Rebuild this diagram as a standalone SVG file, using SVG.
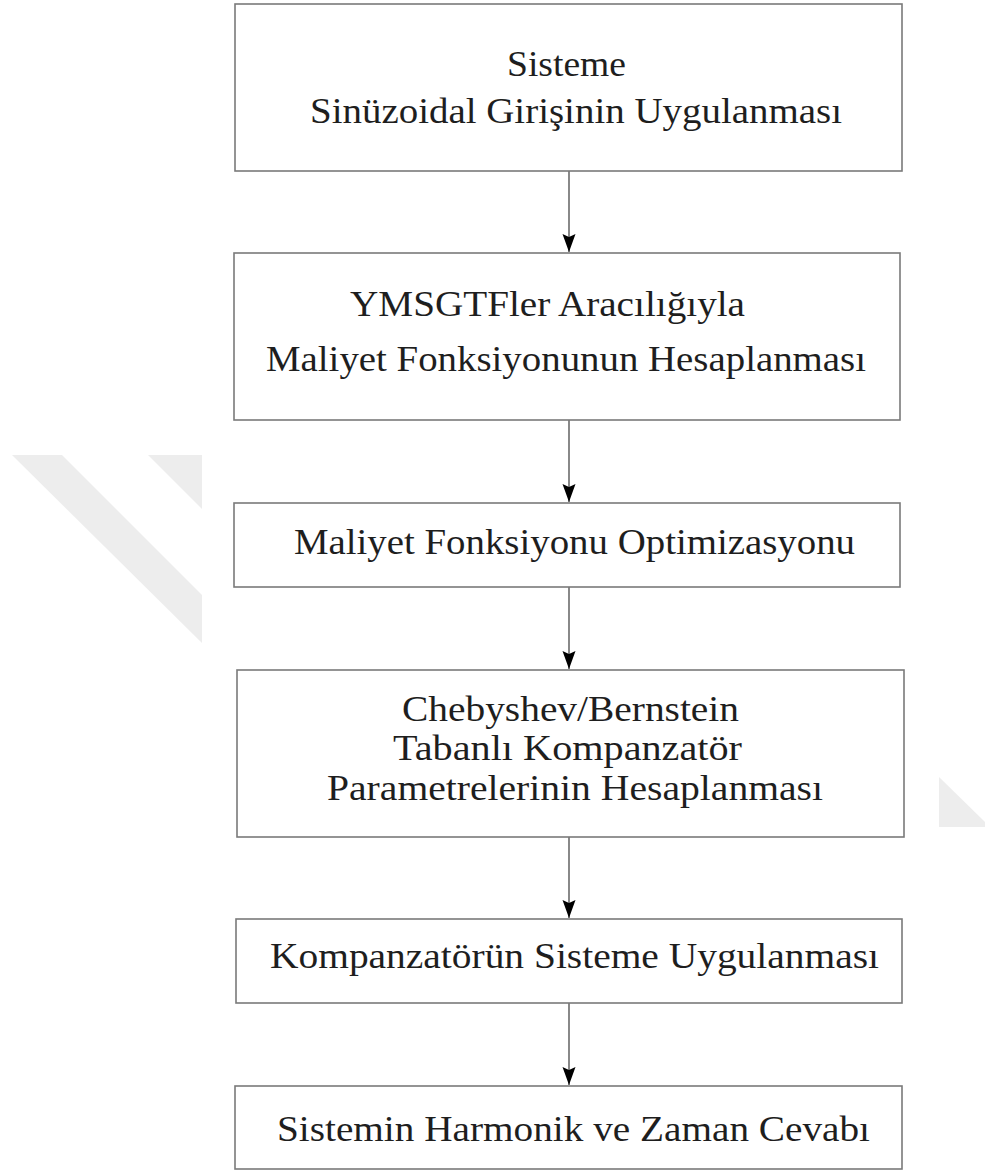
<svg xmlns="http://www.w3.org/2000/svg" width="985" height="1173" viewBox="0 0 985 1173">
<defs>
<style>
.box{fill:#ffffff;stroke:#7a7a7a;stroke-width:1.6}
.lbl{font-family:"Liberation Serif","DejaVu Serif",serif;font-size:36px;fill:#1e1e1e}
.edge{stroke:#3a3a3a;stroke-width:1.2;fill:none}
.wm{fill:#ededed}
</style>
<marker id="arr" markerUnits="userSpaceOnUse" markerWidth="20" markerHeight="14" refX="18" refY="6.5" orient="auto">
<path d="M0,0 L18,6.5 L0,13 L3,6.5 Z" fill="#000000"/>
</marker>
</defs>
<rect width="985" height="1173" fill="#ffffff"/>
<g id="watermark">
<polygon class="wm" points="12,455 62,455 202,595 202,643"/>
<polygon class="wm" points="148,455 202,455 202,509"/>
<polygon class="wm" points="939,777 985,822 985,827 939,827"/>
</g>
<g id="connectors">
<line class="edge" x1="569" y1="171" x2="569" y2="252" marker-end="url(#arr)"/>
<line class="edge" x1="569" y1="420" x2="569" y2="502" marker-end="url(#arr)"/>
<line class="edge" x1="569" y1="587" x2="569" y2="669" marker-end="url(#arr)"/>
<line class="edge" x1="569" y1="837" x2="569" y2="918" marker-end="url(#arr)"/>
<line class="edge" x1="569" y1="1003" x2="569" y2="1085" marker-end="url(#arr)"/>
</g>
<g id="n1">
<rect class="box" x="235" y="4" width="667" height="167"/>
<text class="lbl" x="507" y="76" textLength="119" lengthAdjust="spacingAndGlyphs">Sisteme</text>
<text class="lbl" x="310" y="123" textLength="532" lengthAdjust="spacingAndGlyphs">Sinüzoidal Girişinin Uygulanması</text>
</g>
<g id="n2">
<rect class="box" x="234" y="253" width="666" height="167"/>
<text class="lbl" x="350" y="316" textLength="395" lengthAdjust="spacingAndGlyphs">YMSGTFler Aracılığıyla</text>
<text class="lbl" x="266" y="371" textLength="600" lengthAdjust="spacingAndGlyphs">Maliyet Fonksiyonunun Hesaplanması</text>
</g>
<g id="n3">
<rect class="box" x="234" y="503" width="666" height="84"/>
<text class="lbl" x="294" y="554" textLength="561" lengthAdjust="spacingAndGlyphs">Maliyet Fonksiyonu Optimizasyonu</text>
</g>
<g id="n4">
<rect class="box" x="237" y="670" width="667" height="167"/>
<text class="lbl" x="402" y="721" textLength="337" lengthAdjust="spacingAndGlyphs">Chebyshev/Bernstein</text>
<text class="lbl" x="393" y="760" textLength="349" lengthAdjust="spacingAndGlyphs">Tabanlı Kompanzatör</text>
<text class="lbl" x="327" y="800" textLength="496" lengthAdjust="spacingAndGlyphs">Parametrelerinin Hesaplanması</text>
</g>
<g id="n5">
<rect class="box" x="236" y="919" width="666" height="84"/>
<text class="lbl" x="270" y="968" textLength="609" lengthAdjust="spacingAndGlyphs">Kompanzatörün Sisteme Uygulanması</text>
</g>
<g id="n6">
<rect class="box" x="235" y="1086" width="667" height="83"/>
<text class="lbl" x="277" y="1141" textLength="593" lengthAdjust="spacingAndGlyphs">Sistemin Harmonik ve Zaman Cevabı</text>
</g>
</svg>
